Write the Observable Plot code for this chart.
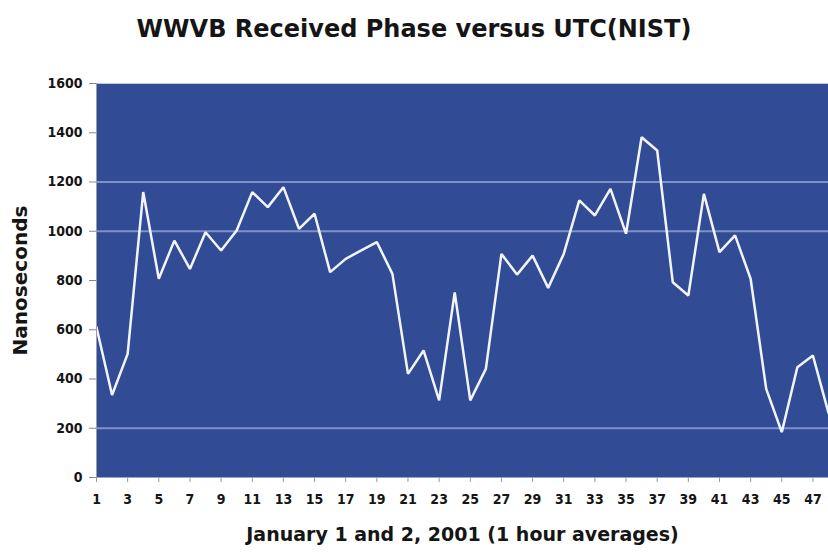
<!DOCTYPE html>
<html>
<head>
<meta charset="utf-8">
<script src="https://cdn.jsdelivr.net/npm/d3@7"></script>
<script src="https://cdn.jsdelivr.net/npm/@observablehq/plot@0.6"></script>
<style>
  html, body { margin: 0; padding: 0; background: #ffffff; width: 828px; height: 553px; overflow: hidden; }
  #title { height: 70px; width: 828px; text-align: center; font-family: "DejaVu Sans", sans-serif; font-weight: bold; font-size: 24px; line-height: 24px; padding-top: 17px; box-sizing: border-box; color: #151515; }
  #chart svg { display: block; }
</style>
</head>
<body>
<div id="title">WWVB Received Phase versus UTC(NIST)</div>
<div id="chart"></div>
<script>
const hours = d3.range(1, 49);
const phase = [610, 335, 502, 1159, 807, 962, 847, 996, 922, 1003,
               1159, 1098, 1179, 1010, 1071, 834, 888, 922, 956, 827,
               421, 516, 313, 752, 313, 441, 908, 824, 901, 770,
               908, 1125, 1064, 1172, 990, 1382, 1328, 793, 739, 1152,
               915, 983, 807, 360, 184, 448, 495, 262];
const gridValues = [200, 1000, 1200];
const yTicks = [0, 200, 400, 600, 800, 1000, 1200, 1400, 1600];
const xTicks = d3.range(1, 48, 2);
const xLabel = "January 1 and 2, 2001 (1 hour averages)";
const yLabel = "Nanoseconds";

const data = hours.map((h, i) => ({hour: h, ns: phase[i]}));

const chart = Plot.plot({
  width: 828,
  height: 483,
  marginTop: 13,
  marginBottom: 76,
  marginLeft: 96,
  marginRight: 0,
  style: {fontFamily: "'DejaVu Sans Condensed', 'DejaVu Sans', sans-serif", fontWeight: "bold", fontSize: "14px", color: "#151515", background: "#fff"},
  x: {domain: [1, 48]},
  y: {domain: [0, 1600]},
  marks: [
    Plot.frame({fill: "#324b95", stroke: null}),
    Plot.ruleY(gridValues, {stroke: "#7e91cb", strokeWidth: 2}),
    Plot.line(data, {x: "hour", y: "ns", stroke: "#f2f4ff", strokeWidth: 2.5, strokeLinejoin: "miter"}),
    Plot.ruleY([1600], {stroke: "#c2c6d6", strokeWidth: 1}),
    Plot.ruleX([1], {stroke: "#9a9ca8", strokeWidth: 1}),
    Plot.axisY({ticks: yTicks, tickFormat: d => String(d), tickSize: 7, tickPadding: 7, stroke: "#888", label: null, fontSize: 14}),
    Plot.axisX({ticks: xTicks, tickFormat: d => String(d), tickSize: 5, tickPadding: 12, stroke: "#999", label: null, fontSize: 14}),
    Plot.text([xLabel], {frameAnchor: "bottom", dy: 63, fontSize: 19, fontWeight: "bold", fill: "#151515", fontFamily: "DejaVu Sans"}),
    Plot.text([yLabel], {frameAnchor: "left", dx: -76, rotate: -90, textAnchor: "middle", fontSize: 20, fontWeight: "bold", fill: "#151515", fontFamily: "DejaVu Sans"})
  ]
});
document.getElementById("chart").appendChild(chart);
</script>
</body>
</html>
